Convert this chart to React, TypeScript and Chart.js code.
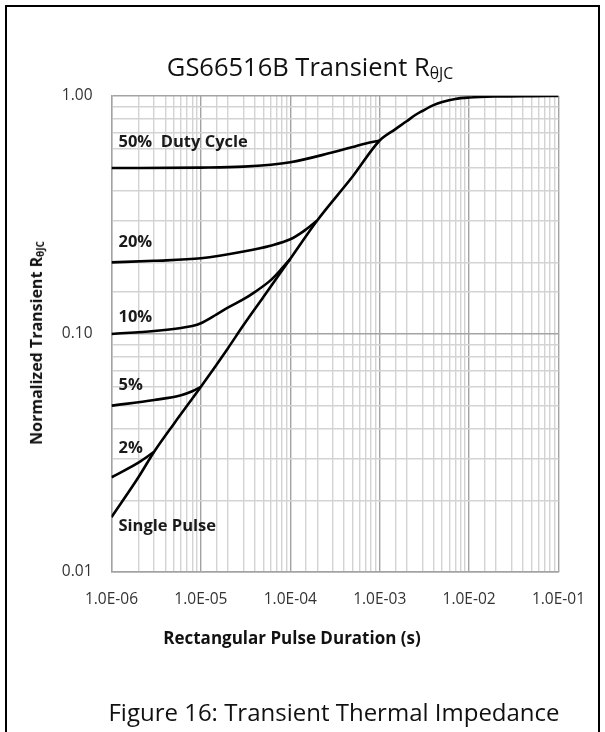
import React, { useEffect, useRef } from 'react';
import { Chart, registerables } from 'chart.js';

Chart.register(...registerables);

// ---- data ----
const xTickLabels = ['1.0E-06', '1.0E-05', '1.0E-04', '1.0E-03', '1.0E-02', '1.0E-01'];
const yTickLabels = ['0.01', '0.10', '1.00'];

const singleT = [1e-6, 2e-6, 3e-6, 5e-6, 1e-5, 2e-5, 3e-5, 5e-5, 1e-4, 2e-4, 5e-4, 1e-3, 1.5e-3, 2e-3, 2.5e-3, 3e-3, 4e-3, 5e-3, 7e-3, 1e-2, 2e-2, 5e-2, 1e-1];
const singleZ = [0.017, 0.025, 0.032, 0.042, 0.060, 0.087, 0.109, 0.143, 0.207, 0.300, 0.46, 0.65, 0.726, 0.783, 0.832, 0.865, 0.915, 0.943, 0.972, 0.985, 0.995, 0.999, 1.0];

const d2T = [1e-6, 2e-6, 3e-6];
const d2Z = [0.025, 0.0288, 0.032];

const d5T = [1e-6, 3e-6, 6e-6, 8e-6, 1e-5];
const d5Z = [0.050, 0.0528, 0.0553, 0.0575, 0.060];

const d10T = [1e-6, 3e-6, 6e-6, 8e-6, 1e-5, 1.5e-5, 2e-5, 3e-5, 4e-5, 6e-5, 8e-5, 1e-4];
const d10Z = [0.100, 0.103, 0.106, 0.108, 0.111, 0.121, 0.129, 0.140, 0.150, 0.168, 0.188, 0.207];

const d20T = [1e-6, 3e-6, 1e-5, 3e-5, 6e-5, 1e-4, 1.4e-4, 2e-4];
const d20Z = [0.200, 0.203, 0.208, 0.222, 0.235, 0.250, 0.270, 0.300];

const d50T = [1e-6, 1e-5, 3e-5, 1e-4, 3e-4, 5e-4, 7e-4, 1e-3];
const d50Z = [0.498, 0.500, 0.505, 0.527, 0.580, 0.610, 0.632, 0.650];

const curveLabels = ['Single Pulse', '2%', '5%', '10%', '20%', '50%  Duty Cycle'];
const curveLabelValues = [0.0156, 0.0332, 0.061, 0.118, 0.244, 0.641];

const FONT = '"Open Sans", "Noto Sans", sans-serif';

function pts(t: number[], z: number[]) {
  return t.map((v, i) => ({ x: v, y: z[i] }));
}

function isDecade(v: number) {
  const l = Math.log10(v);
  return Math.abs(l - Math.round(l)) < 1e-6;
}

const labelPlugin = {
  id: 'curveLabels',
  afterDatasetsDraw(chart: any) {
    const { ctx, chartArea, scales } = chart;
    ctx.save();
    ctx.font = `bold 16.5px ${FONT}`;
    ctx.fillStyle = '#1a1a1a';
    ctx.textBaseline = 'middle';
    ctx.textAlign = 'left';
    curveLabels.forEach((txt, i) => {
      ctx.fillText(txt, chartArea.left + 7, scales.y.getPixelForValue(curveLabelValues[i]));
    });
    ctx.restore();
  },
};

export default function App() {
  const ref = useRef<HTMLCanvasElement | null>(null);

  useEffect(() => {
    if (!ref.current) return;
    const series = [
      pts(singleT, singleZ),
      pts(d2T, d2Z),
      pts(d5T, d5Z),
      pts(d10T, d10Z),
      pts(d20T, d20Z),
      pts(d50T, d50Z),
    ];
    const gridColor = (c: any) => (c.tick && isDecade(c.tick.value) ? '#a3a3a3' : '#d3d3d3');
    const chart = new Chart(ref.current, {
      type: 'scatter',
      data: {
        datasets: series.map((d, i) => ({
          label: curveLabels[i],
          data: d,
          showLine: true,
          borderColor: '#000',
          borderWidth: 2.6,
          pointRadius: 0,
          cubicInterpolationMode: 'monotone' as const,
          fill: false,
        })),
      },
      options: {
        animation: false,
        responsive: false,
        maintainAspectRatio: false,
        layout: { padding: { top: 96, right: 46.5, bottom: 120, left: 0 } },
        plugins: { legend: { display: false }, tooltip: { enabled: false }, title: { display: false } },
        scales: {
          x: {
            type: 'logarithmic',
            min: 1e-6,
            max: 1e-1,
            afterFit: (s: any) => { s.height = 40; },
            grid: { color: gridColor, lineWidth: 1.4, drawTicks: false },
            border: { display: true, color: '#a3a3a3', width: 1.4 },
            ticks: {
              autoSkip: false,
              maxRotation: 0,
              padding: 18,
              color: '#333',
              font: { family: FONT, size: 15.5 },
              callback: (v: any) => (isDecade(Number(v)) ? xTickLabels[Math.round(Math.log10(Number(v))) + 6] : ''),
            },
          },
          y: {
            type: 'logarithmic',
            min: 0.01,
            max: 1,
            afterFit: (s: any) => { s.width = 111.5; },
            grid: { color: gridColor, lineWidth: 1.4, drawTicks: false },
            border: { display: true, color: '#a3a3a3', width: 1.4 },
            ticks: {
              autoSkip: false,
              padding: 19,
              color: '#333',
              font: { family: FONT, size: 15.5 },
              callback: (v: any) => (isDecade(Number(v)) ? yTickLabels[Math.round(Math.log10(Number(v))) + 2] : ''),
            },
          },
        },
      },
      plugins: [labelPlugin],
    } as any);
    return () => chart.destroy();
  }, []);

  const sub: React.CSSProperties = { fontSize: '0.62em', verticalAlign: '-0.22em' };

  return (
    <div style={{ position: 'relative', width: 605, height: 732, overflow: 'hidden', background: '#fff', fontFamily: FONT, color: '#111' }}>
      <style>{'body{margin:0}'}</style>
      <div style={{ position: 'absolute', left: 5, top: 5, width: 591, height: 760, borderLeft: '2px solid #000', borderTop: '2px solid #000', borderRight: '2px solid #000' }} />
      <canvas ref={ref} width={605} height={732} style={{ position: 'absolute', left: 0, top: 0 }} />
      <div style={{ position: 'absolute', left: 310, top: 68, transform: 'translate(-50%,-50%)', whiteSpace: 'nowrap', fontSize: 25.5, lineHeight: 1 }}>
        GS66516B Transient R<span style={sub}>θJC</span>
      </div>
      <div style={{ position: 'absolute', left: 37, top: 343, transform: 'translate(-50%,-50%) rotate(-90deg)', whiteSpace: 'nowrap', fontSize: 16, fontWeight: 700, lineHeight: 1 }}>
        Normalized Transient R<span style={sub}>θJC</span>
      </div>
      <div style={{ position: 'absolute', left: 292, top: 637, transform: 'translate(-50%,-50%)', whiteSpace: 'nowrap', fontSize: 17, fontWeight: 700, lineHeight: 1 }}>
        Rectangular Pulse Duration (s)
      </div>
      <div style={{ position: 'absolute', left: 334, top: 712, transform: 'translate(-50%,-50%)', whiteSpace: 'nowrap', fontSize: 24, lineHeight: 1 }}>
        Figure 16: Transient Thermal Impedance
      </div>
    </div>
  );
}
